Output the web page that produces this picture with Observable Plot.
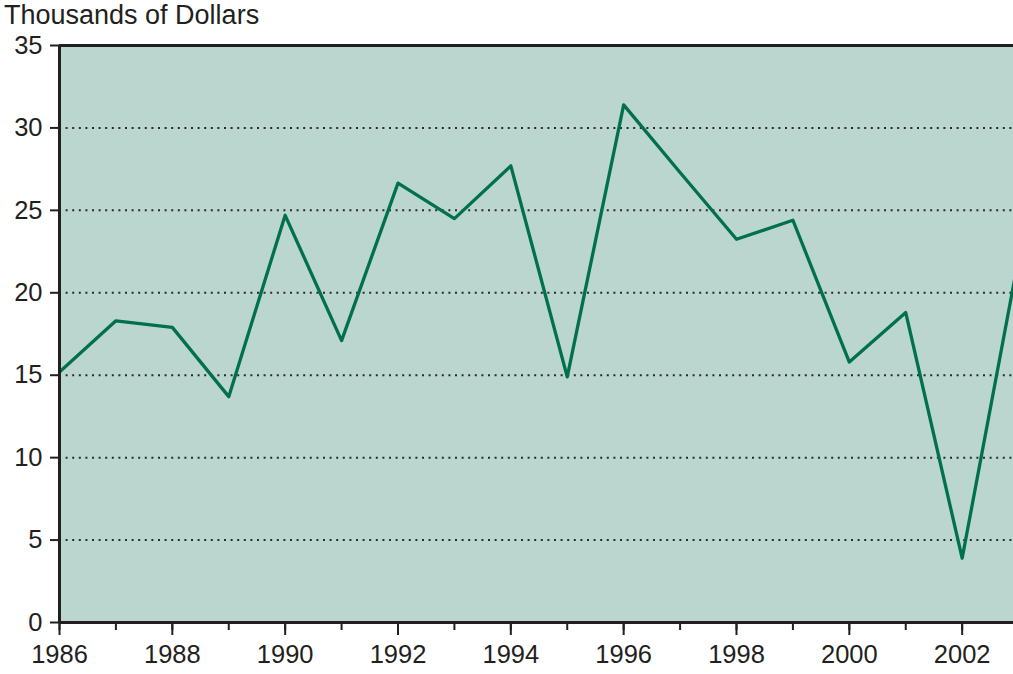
<!DOCTYPE html>
<html>
<head>
<meta charset="utf-8">
<script src="https://cdn.jsdelivr.net/npm/d3@7"></script>
<script src="https://cdn.jsdelivr.net/npm/@observablehq/plot@0.6"></script>
<style>
  html, body { margin: 0; padding: 0; background: #fff; overflow: hidden; }
  #title { font-family: "Liberation Sans", Arial, sans-serif; font-size: 27px; color: #231f20; height: 32px; line-height: 30px; padding-left: 4px; white-space: nowrap; }
  #chart svg { display: block; }
</style>
</head>
<body>
<div id="title">Thousands of Dollars</div>
<div id="chart"></div>
<script>
const years = [1986, 1987, 1988, 1989, 1990, 1991, 1992, 1993, 1994, 1995, 1996, 1997, 1998, 1999, 2000, 2001, 2002, 2003];
const values = [15.2, 18.3, 17.9, 13.7, 24.7, 17.1, 26.65, 24.5, 27.7, 14.9, 31.4, 27.3, 23.25, 24.4, 15.8, 18.8, 3.9, 22.1];
const yTicks = [0, 5, 10, 15, 20, 25, 30, 35];
const gridValues = [5, 10, 15, 20, 25, 30];
const labeledYears = [1986, 1988, 1990, 1992, 1994, 1996, 1998, 2000, 2002];
const allYears = [1986, 1987, 1988, 1989, 1990, 1991, 1992, 1993, 1994, 1995, 1996, 1997, 1998, 1999, 2000, 2001, 2002, 2003];

const data = years.map((y, i) => ({year: y, value: values[i]}));
const ink = "#231f20";

const chart = Plot.plot({
  width: 1013,
  height: 642,
  marginLeft: 59,
  marginRight: 0,
  marginTop: 13,
  marginBottom: 52,
  style: {fontFamily: "'Liberation Sans', Arial, sans-serif", fontSize: "25.5px", color: ink, background: "transparent"},
  x: {domain: [1986, 2002.91], label: null},
  y: {domain: [0, 35], label: null},
  marks: [
    Plot.frame({fill: "#bbd6cf", stroke: null}),
    Plot.ruleY(gridValues, {stroke: "#2a2a2a", strokeWidth: 2, strokeDasharray: "2 4.6"}),
    Plot.line(data, {x: "year", y: "value", stroke: "#00704f", strokeWidth: 3.3, clip: true}),
    Plot.axisX({ticks: allYears, tickSize: 8, tickFormat: () => "", stroke: ink, strokeWidth: 2}),
    Plot.axisX({ticks: labeledYears, tickSize: 13, tickPadding: 9, tickFormat: d => String(d), stroke: ink, strokeWidth: 2, fill: ink}),
    Plot.axisY({ticks: yTicks, tickSize: 9, tickPadding: 8, stroke: ink, strokeWidth: 2, fill: ink}),
    Plot.ruleY([0], {stroke: ink, strokeWidth: 3}),
    Plot.ruleY([35], {stroke: ink, strokeWidth: 3}),
    Plot.ruleX([1986], {stroke: ink, strokeWidth: 3})
  ]
});
document.getElementById("chart").appendChild(chart);
</script>
</body>
</html>
